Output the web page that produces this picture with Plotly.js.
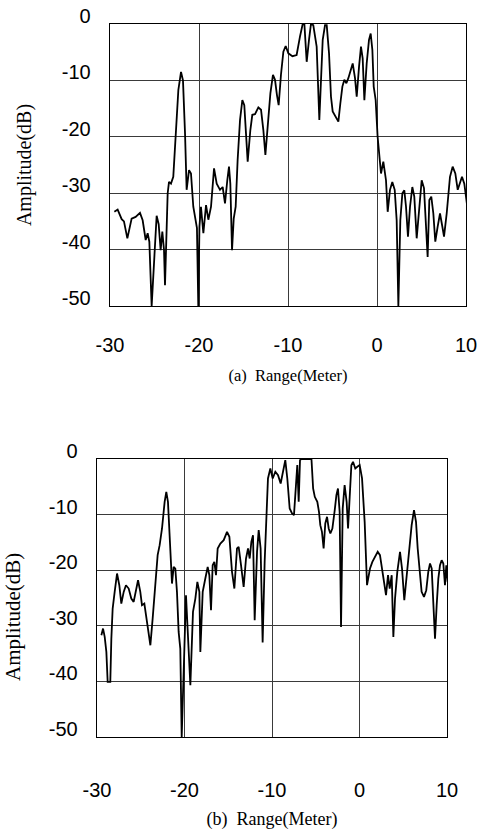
<!DOCTYPE html>
<html>
<head>
<meta charset="utf-8">
<script src="https://cdn.plot.ly/plotly-3.0.1.min.js"></script>
<style>
  html, body { margin: 0; padding: 0; background: #fff; }
  #chart { width: 485px; height: 830px; }
</style>
</head>
<body>
<div id="chart"></div>
<script>
// ---- Panel (a) ----
const rangeA = [
  -29.51,-29.14,-28.69,-28.43,-28.05,-27.57,-27.12,-26.63,-26.33,-25.99,
  -25.77,-25.58,-25.32,-24.76,-24.53,-24.31,-24.12,-23.93,-23.82,-23.52,
  -23.37,-23.15,-22.89,-22.62,-22.32,-22.02,-21.80,-21.57,-21.39,-21.12,
  -20.90,-20.64,-20.38,-20.23,-20.08,-19.95,-19.78,-19.51,-19.21,-18.95,
  -18.65,-18.31,-18.01,-17.64,-17.34,-17.08,-16.82,-16.63,-16.48,-16.29,
  -16.10,-15.88,-15.66,-15.39,-15.13,-14.91,-14.72,-14.53,-14.23,-14.01,
  -13.71,-13.33,-13.03,-12.77,-12.54,-12.28,-11.98,-11.69,-11.46,-11.24,
  -11.05,-10.79,-10.52,-10.26,-9.96,-9.50,-9.03,-8.65,-8.35,-8.16,
  -7.90,-7.64,-7.42,-7.16,-6.78,-6.48,-6.29,-6.10,-5.84,-5.65,
  -5.39,-5.17,-4.98,-4.64,-4.34,-4.12,-3.89,-3.67,-3.44,-3.22,
  -2.95,-2.73,-2.47,-2.28,-2.02,-1.80,-1.61,-1.42,-1.16,-0.90,
  -0.71,-0.52,-0.37,-0.15,0.07,0.26,0.45,0.71,1.01,1.20,
  1.46,1.72,1.99,2.21,2.40,2.62,2.85,3.07,3.26,3.48,
  3.71,3.97,4.19,4.46,4.72,5.02,5.28,5.51,5.69,5.88,
  6.10,6.33,6.55,6.82,7.08,7.34,7.53,7.83,8.20,8.50,
  8.80,9.07,9.33,9.55,9.81,10.07,10.34
];
const ampA = [
  -33.3,-32.9,-34.6,-35.0,-38.0,-34.5,-34.2,-33.5,-34.8,-38.3,
  -37.1,-38.6,-50.0,-34.0,-35.5,-40.1,-36.8,-40.1,-46.3,-30.0,
  -28.0,-28.3,-27.1,-20.0,-11.7,-8.5,-10.0,-19.4,-29.4,-25.9,
  -26.5,-32.4,-34.8,-36.2,-50.0,-35.9,-32.4,-37.1,-32.1,-34.7,
  -32.4,-25.6,-28.3,-29.4,-28.9,-31.8,-27.7,-25.3,-28.3,-40.1,
  -34.5,-32.4,-24.1,-17.0,-13.5,-14.4,-19.4,-24.4,-18.8,-16.1,
  -16.0,-14.8,-15.2,-18.8,-23.2,-17.6,-12.3,-9.0,-9.9,-12.6,
  -14.4,-9.0,-4.9,-3.9,-5.2,-5.7,-5.5,-2.2,0.0,0.0,
  -6.7,-2.8,0.0,-0.2,-4.0,-17.0,-11.1,-2.8,-0.2,-0.2,
  -5.2,-12.9,-15.5,-16.4,-17.3,-14.1,-11.1,-9.9,-10.5,-9.6,
  -8.2,-7.0,-9.6,-12.9,-7.6,-4.0,-6.1,-13.5,-7.0,-2.8,
  -1.7,-4.6,-11.1,-13.5,-20.0,-24.1,-26.5,-24.4,-27.7,-33.3,
  -29.4,-28.0,-29.4,-34.8,-50.0,-34.8,-30.0,-29.5,-32.4,-37.7,
  -32.4,-28.9,-30.6,-38.0,-32.4,-27.7,-29.1,-34.8,-41.3,-31.2,
  -30.6,-33.6,-38.6,-35.9,-33.6,-35.9,-37.7,-33.6,-27.1,-25.3,
  -26.5,-29.4,-28.3,-27.1,-28.3,-31.2,-34.8
];

// ---- Panel (b) ----
const rangeB = [
  -29.50,-29.31,-29.12,-28.93,-28.78,-28.48,-28.36,-28.21,-27.98,-27.71,
  -27.45,-27.22,-26.95,-26.69,-26.38,-26.08,-25.81,-25.54,-25.31,-25.05,
  -24.86,-24.59,-24.40,-24.10,-23.90,-23.64,-23.33,-23.07,-22.84,-22.57,
  -22.27,-22.08,-21.89,-21.70,-21.54,-21.43,-21.24,-21.05,-20.86,-20.67,
  -20.48,-20.32,-19.83,-19.52,-19.33,-19.03,-18.76,-18.53,-18.30,-18.19,
  -17.92,-17.62,-17.35,-17.16,-16.97,-16.78,-16.59,-16.40,-16.21,-15.90,
  -15.52,-15.14,-14.87,-14.57,-14.30,-14.00,-13.81,-13.54,-13.24,-12.97,
  -12.74,-12.55,-12.36,-12.17,-11.98,-11.71,-11.52,-11.30,-11.07,-10.84,
  -10.65,-10.46,-10.19,-9.92,-9.62,-9.31,-9.01,-8.74,-8.48,-8.25,
  -7.98,-7.71,-7.49,-7.26,-7.11,-6.95,-6.80,-6.65,-6.08,-5.49,
  -5.30,-5.11,-4.82,-4.63,-4.48,-4.29,-4.10,-3.91,-3.71,-3.52,
  -3.33,-3.10,-2.83,-2.64,-2.46,-2.27,-2.11,-1.92,-1.70,-1.47,
  -1.31,-1.12,-0.93,-0.74,-0.48,-0.25,0.02,0.29,0.59,0.86,
  1.20,1.47,1.77,2.08,2.34,2.61,2.84,3.03,3.26,3.45,
  3.68,3.87,4.06,4.32,4.63,4.86,5.12,5.39,5.69,5.96,
  6.23,6.46,6.65,6.88,7.10,7.37,7.63,7.86,8.06,8.25,
  8.44,8.63,8.82,9.01,9.20,9.39,9.58,9.77,9.92,10.08,
  10.27,10.46
];
const ampB = [
  -31.7,-30.5,-32.0,-34.7,-40.1,-40.1,-32.3,-26.9,-23.9,-20.6,
  -22.7,-26.0,-23.9,-22.7,-23.3,-25.1,-25.7,-23.9,-21.8,-23.9,
  -26.3,-26.0,-28.1,-30.5,-33.5,-28.7,-22.7,-17.3,-15.5,-12.5,
  -7.7,-5.9,-7.7,-13.7,-19.1,-22.4,-19.4,-19.7,-23.9,-31.1,
  -34.1,-50.0,-24.5,-33.5,-40.7,-27.5,-25.1,-22.1,-23.9,-34.7,
  -23.9,-21.5,-19.4,-20.9,-27.2,-19.1,-18.5,-20.9,-16.1,-15.2,
  -14.6,-13.1,-14.0,-20.3,-23.3,-16.1,-15.8,-19.1,-23.0,-17.9,
  -16.1,-17.9,-14.9,-13.7,-29.0,-16.7,-12.8,-16.1,-33.0,-18.5,
  -9.5,-3.5,-1.7,-3.5,-2.3,-2.9,-4.4,-2.3,-0.2,-3.5,
  -8.9,-9.8,-10.1,-4.7,-1.1,-7.7,-0.2,0.0,0.0,0.0,
  -5.3,-6.8,-7.7,-9.5,-11.9,-13.1,-16.1,-11.6,-10.4,-12.5,
  -13.4,-12.5,-9.2,-6.5,-5.3,-9.5,-30.2,-8.9,-4.7,-7.7,
  -12.5,-5.9,-1.1,-0.5,-1.7,-1.4,-1.1,-3.5,-11.3,-22.7,
  -19.7,-18.5,-17.6,-16.7,-17.3,-20.0,-22.7,-24.5,-20.9,-23.3,
  -20.9,-32.0,-25.1,-20.3,-16.7,-19.7,-25.4,-20.9,-16.1,-11.9,
  -9.2,-11.3,-16.1,-20.9,-23.9,-24.8,-23.6,-20.3,-18.8,-19.7,
  -25.1,-32.3,-26.3,-21.5,-19.1,-18.2,-18.8,-22.7,-19.1,-22.1,
  -20.3,-19.7
];

// ---- Ticks & labels ----
const xTickVals = [-30, -20, -10, 0, 10];
const xTickText = ['-30', '-20', '-10', '0', '10'];
const yTickVals = [0, -10, -20, -30, -40, -50];
const yTickText = ['0', '-10', '-20', '-30', '-40', '-50'];
const yTitle = 'Amplitude(dB)';
const xTitleA = '(a)\u00a0\u00a0Range(Meter)';
const xTitleB = '(b)\u00a0\u00a0Range(Meter)';

const W = 485, H = 830;
const tickFont = { family: 'Liberation Sans, Arial, sans-serif', size: 20, color: '#000' };
const serif = 'Liberation Serif, Times New Roman, serif';

function xAxis(domain, title, standoff, titleSize, labelStandoff) {
  return {
    domain: domain, range: [-30, 10], autorange: false,
    tickmode: 'array', tickvals: xTickVals, ticktext: xTickText,
    ticks: '', showgrid: true, gridcolor: '#3a3a3a', gridwidth: 1,
    zeroline: false, showline: true, mirror: true, linecolor: '#000', linewidth: 1.3,
    tickfont: tickFont, ticklabelstandoff: labelStandoff, automargin: false,
    title: { text: title, font: { family: serif, size: titleSize, color: '#000' }, standoff: standoff }
  };
}
function yAxis(domain, anchor, title, standoff) {
  const ax = {
    domain: domain, range: [-50, 0], autorange: false, anchor: anchor,
    tickmode: 'array', tickvals: yTickVals, ticktext: yTickText,
    ticks: '', showgrid: true, gridcolor: '#3a3a3a', gridwidth: 1,
    zeroline: false, showline: true, mirror: true, linecolor: '#000', linewidth: 1.3,
    tickfont: tickFont, ticklabelstandoff: 14, ticklabelshift: -8, automargin: false
  };
  if (title) ax.title = { text: title, font: { family: serif, size: 20, color: '#000' }, standoff: standoff };
  return ax;
}

const traces = [
  { x: rangeA, y: ampA, xaxis: 'x', yaxis: 'y', type: 'scatter', mode: 'lines',
    line: { color: '#000', width: 1.8 }, hoverinfo: 'skip', showlegend: false },
  { x: rangeB, y: ampB, xaxis: 'x2', yaxis: 'y2', type: 'scatter', mode: 'lines',
    line: { color: '#000', width: 1.8 }, hoverinfo: 'skip', showlegend: false }
];

const layout = {
  width: W, height: H,
  margin: { l: 0, r: 0, t: 0, b: 0 },
  paper_bgcolor: '#fff', plot_bgcolor: '#fff',
  showlegend: false,
  xaxis: xAxis([110 / W, 466 / W], xTitleA, 14, 16.5, 21),
  yaxis: yAxis([1 - 306 / H, 1 - 24 / H], 'x', yTitle, 24),
  xaxis2: xAxis([97 / W, 447 / W], xTitleB, 18, 18, 35),
  yaxis2: yAxis([1 - 737 / H, 1 - 459 / H], 'x2', null, 0),
  // the lower panel's y title sits below its axis centre in the original, so it is placed directly
  annotations: [{
    text: yTitle, textangle: -90, xref: 'paper', yref: 'paper',
    x: 13 / W, y: 1 - 617 / H, xanchor: 'center', yanchor: 'middle', showarrow: false,
    font: { family: serif, size: 21, color: '#000' }
  }]
};
layout.xaxis.anchor = 'y';
layout.xaxis2.anchor = 'y2';

Plotly.newPlot('chart', traces, layout, { staticPlot: true, displayModeBar: false });
</script>
</body>
</html>
